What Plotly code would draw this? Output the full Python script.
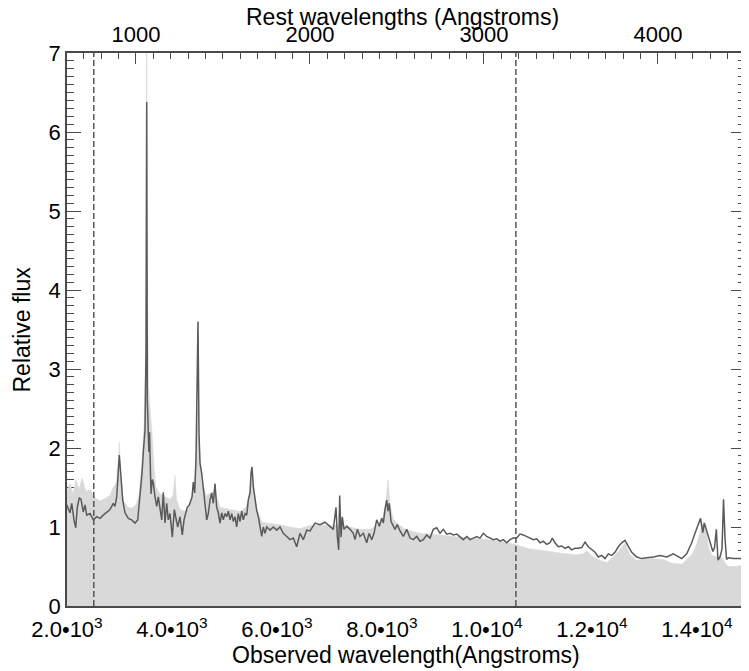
import plotly.graph_objects as go

# Observed spectrum (dark line): observed wavelength (Angstroms) and relative flux
obs_wave = [2000, 2006, 2057, 2090, 2133, 2166, 2196, 2234, 2267, 2310, 2343, 2375, 2438, 2501, 2566,
            2629, 2691, 2756, 2819, 2882, 2914, 2947, 2977, 2996, 3023, 3061, 3105, 3168, 3232, 3295,
            3347, 3377, 3404, 3429, 3453, 3486, 3505, 3518, 3530, 3549, 3560, 3571, 3585, 3600, 3625,
            3644, 3676, 3709, 3739, 3772, 3804, 3834, 3867, 3899, 3929, 3962, 4006, 4044, 4076, 4108,
            4152, 4185, 4196, 4229, 4248, 4280, 4291, 4330, 4343, 4381, 4406, 4432, 4457, 4482, 4495,
            4514, 4533, 4566, 4596, 4629, 4661, 4691, 4724, 4756, 4787, 4819, 4851, 4882, 4914, 4947,
            4977, 5010, 5042, 5073, 5105, 5137, 5168, 5200, 5232, 5263, 5295, 5328, 5358, 5391, 5423,
            5453, 5486, 5505, 5524, 5549, 5581, 5613, 5644, 5676, 5709, 5739, 5772, 5804, 5867, 5930,
            5994, 6057, 6120, 6185, 6248, 6311, 6375, 6438, 6501, 6566, 6629, 6724, 6819, 6914, 7010,
            7073, 7124, 7149, 7175, 7194, 7219, 7244, 7276, 7328, 7391, 7453, 7486, 7530, 7581, 7644,
            7709, 7753, 7804, 7848, 7899, 7949, 7994, 8025, 8057, 8090, 8114, 8139, 8172, 8215, 8248,
            8291, 8343, 8406, 8471, 8534, 8596, 8661, 8724, 8787, 8852, 8914, 8977, 9042, 9105, 9168,
            9233, 9295, 9358, 9423, 9486, 9549, 9614, 9676, 9739, 9804, 9867, 9930, 9994, 10057, 10120,
            10185, 10248, 10311, 10375, 10438, 10501, 10566, 10629, 10691, 10756, 10819, 10882, 10947,
            11010, 11072, 11137, 11200, 11244, 11295, 11358, 11423, 11486, 11549, 11614, 11676, 11739,
            11804, 11867, 11930, 11994, 12057, 12120, 12185, 12248, 12311, 12375, 12438, 12501, 12566,
            12629, 12691, 12756, 12851, 12947, 13042, 13168, 13295, 13423, 13549, 13645, 13709, 13804,
            13899, 13962, 14025, 14067, 14109, 14140, 14185, 14248, 14301, 14334, 14368, 14400, 14438,
            14476, 14505, 14533, 14562, 14595, 14690, 14819, 14914]
obs_flux = [1.28, 1.26, 1.18, 1.30, 1.09, 0.99, 1.25, 1.37, 1.35, 1.19, 1.28, 1.15, 1.17, 1.09, 1.13,
            1.11, 1.15, 1.18, 1.22, 1.30, 1.26, 1.38, 1.72, 1.91, 1.68, 1.34, 1.18, 1.11, 1.09, 1.05,
            1.09, 1.30, 1.56, 1.68, 1.94, 2.23, 3.20, 6.38, 2.60, 2.25, 1.95, 2.20, 1.60, 1.42, 1.60,
            1.56, 1.38, 1.26, 1.38, 1.22, 1.09, 1.44, 1.05, 1.30, 1.09, 1.17, 0.87, 1.22, 1.13, 1.00,
            1.13, 0.92, 0.90, 1.09, 1.13, 1.22, 1.25, 1.28, 1.30, 1.38, 1.57, 1.43, 1.85, 3.03, 3.60,
            2.19, 1.81, 1.68, 1.51, 1.25, 1.09, 1.17, 1.34, 1.43, 1.30, 1.55, 1.25, 1.18, 1.05, 1.18,
            1.09, 1.17, 1.13, 1.20, 1.09, 1.17, 1.07, 1.13, 1.00, 1.17, 1.07, 1.20, 1.09, 1.17, 1.15,
            1.34, 1.43, 1.68, 1.76, 1.51, 1.34, 1.21, 1.13, 1.00, 0.88, 1.00, 0.92, 1.00, 0.96, 1.00,
            0.96, 1.00, 0.92, 0.88, 0.84, 0.86, 0.75, 0.92, 0.84, 0.96, 0.95, 1.05, 1.03, 1.06, 1.01,
            0.97, 1.25, 0.88, 0.71, 1.40, 0.87, 1.13, 0.97, 1.01, 0.97, 0.92, 0.84, 0.97, 0.88, 0.92,
            0.80, 0.92, 0.84, 0.92, 1.09, 1.01, 1.11, 1.05, 1.22, 1.34, 1.20, 1.30, 1.07, 1.01, 0.97,
            1.03, 0.95, 0.88, 0.97, 0.86, 0.84, 0.88, 0.82, 0.84, 0.90, 0.86, 0.97, 0.99, 0.92, 0.97,
            0.91, 0.92, 0.90, 0.91, 0.88, 0.84, 0.88, 0.84, 0.86, 0.88, 0.86, 0.92, 0.88, 0.86, 0.84,
            0.85, 0.82, 0.84, 0.80, 0.84, 0.86, 0.86, 0.91, 0.90, 0.88, 0.86, 0.84, 0.85,
            0.80, 0.82, 0.78, 0.80, 0.86, 0.80, 0.75, 0.76, 0.73, 0.75, 0.71, 0.73, 0.73,
            0.74, 0.81, 0.75, 0.71, 0.68, 0.62, 0.64, 0.60, 0.66, 0.64, 0.68, 0.75, 0.80,
            0.83, 0.75, 0.68, 0.62, 0.60, 0.61, 0.62, 0.64, 0.62, 0.66, 0.62, 0.60, 0.66,
            0.80, 0.92, 1.05, 1.11, 0.93, 1.05, 0.95, 0.81, 0.69, 0.74, 0.97, 0.58, 0.62,
            0.72, 1.35, 0.86, 0.59, 0.61, 0.60, 0.60, 0.59]

# Composite / template spectrum (light grey filled area)
tmpl_wave = [2000, 2057, 2114, 2171, 2229, 2286, 2362, 2438, 2533, 2629, 2724, 2819, 2876, 2933, 2971,
             2996, 3019, 3048, 3086, 3162, 3238, 3314, 3371, 3429, 3467, 3495, 3509, 3518, 3530, 3552,
             3581, 3619, 3657, 3695, 3772, 3867, 3962, 4019, 4057, 4086, 4152, 4248, 4343, 4400, 4448,
             4476, 4495, 4514, 4543, 4591, 4648, 4724, 4781, 4838, 4914, 5105, 5295, 5410, 5467, 5514,
             5543, 5581, 5638, 5714, 5867, 6057, 6248, 6438, 6629, 6819, 7010, 7200, 7391, 7581, 7772,
             7924, 8019, 8076, 8114, 8152, 8210, 8286, 8438, 8724, 9105, 9486, 9867, 10248, 10534, 10819,
             11105, 11391, 11676, 11829, 11905, 11981, 12152, 12286, 12400, 12514, 12629, 12724, 12838,
             13105, 13352, 13524, 13714, 13819, 13914, 13990, 14067, 14120, 14171, 14229, 14286, 14400,
             14476, 14533, 14590, 14762, 14914]
tmpl_flux = [1.45, 1.55, 1.42, 1.60, 1.48, 1.62, 1.45, 1.48, 1.37, 1.33, 1.36, 1.40, 1.50, 1.55, 1.80,
             2.08, 1.70, 1.45, 1.32, 1.25, 1.24, 1.28, 1.40, 1.85, 2.30, 3.20, 5.00, 9.00, 4.50, 2.80,
             2.50, 2.20, 1.75, 1.50, 1.42, 1.38, 1.35, 1.40, 1.66, 1.35, 1.22, 1.20, 1.30, 1.45, 1.80,
             2.20, 2.50, 2.10, 1.80, 1.55, 1.40, 1.42, 1.45, 1.42, 1.25, 1.22, 1.20, 1.25, 1.40, 1.65,
             1.55, 1.35, 1.18, 1.06, 1.05, 1.03, 1.00, 0.98, 1.02, 1.03, 1.02, 1.02, 1.00, 0.97, 0.97,
             1.03, 1.13, 1.35, 1.60, 1.30, 1.10, 1.05, 0.97, 0.92, 0.90, 0.87, 0.85, 0.82, 0.78, 0.72,
             0.70, 0.67, 0.65, 0.66, 0.70, 0.64, 0.58, 0.55, 0.62, 0.70, 0.80, 0.65, 0.58,
             0.60, 0.59, 0.54, 0.53, 0.60, 0.66, 0.78, 0.95, 1.07, 0.95, 0.72, 0.64, 0.62,
             0.61, 0.55, 0.50, 0.50, 0.53]

rest_factor = 3.314            # observed / rest wavelength ratio of the top axis
x_range = [2000, 14914]
y_range = [0, 7]
cut_waves = [2510, 10550]      # dashed vertical markers (observed Angstroms)
bottom_tickvals = [2000, 4000, 6000, 8000, 10000, 12000, 14000]
bottom_ticktext = ["2.0\u202210<sup>3</sup>", "4.0\u202210<sup>3</sup>", "6.0\u202210<sup>3</sup>",
                   "8.0\u202210<sup>3</sup>", "1.0\u202210<sup>4</sup>", "1.2\u202210<sup>4</sup>",
                   "1.4\u202210<sup>4</sup>"]
x_title = "Observed wavelength(Angstroms)"
top_title = "Rest wavelengths (Angstroms)"
y_title = "Relative flux"

FONT = "Liberation Sans, Arial, Helvetica, sans-serif"
AXC = "#4a4a4a"
TICKFONT = dict(family=FONT, size=22, color="black")

fig = go.Figure()
fig.add_trace(go.Scatter(x=tmpl_wave, y=tmpl_flux, mode="lines",
                         line=dict(width=0.5, color="#d9d9d9"),
                         fill="tozeroy", fillcolor="#d9d9d9",
                         showlegend=False, hoverinfo="skip"))
fig.add_trace(go.Scatter(x=obs_wave, y=obs_flux, mode="lines",
                         line=dict(width=1.5, color="#5a5a5a"),
                         showlegend=False))
# invisible trace so the rest-frame (top) axis is drawn
fig.add_trace(go.Scatter(x=[w / rest_factor for w in obs_wave], y=obs_flux, xaxis="x2",
                         mode="lines", opacity=0, showlegend=False, hoverinfo="skip"))

for w in cut_waves:
    fig.add_shape(type="line", xref="x", yref="paper", x0=w, x1=w, y0=0, y1=1,
                  line=dict(color="#555555", width=1.5, dash="6px,3px"), layer="above")

fig.add_annotation(text=x_title, xref="paper", yref="paper", x=0.5, y=0,
                   xanchor="center", yanchor="middle", yshift=-49, showarrow=False,
                   font=dict(family=FONT, size=23, color="black"))
fig.add_annotation(text=top_title, xref="paper", yref="paper", x=0.5, y=1,
                   xanchor="center", yanchor="middle", yshift=36, xshift=-4, showarrow=False,
                   font=dict(family=FONT, size=23, color="black"))
fig.add_annotation(text=y_title, xref="paper", yref="paper", x=0, y=0.5, textangle=-90,
                   xanchor="center", yanchor="middle", xshift=-46, showarrow=False,
                   font=dict(family=FONT, size=23, color="black"))

# the page body adds an 8 px offset, so the figure is 8 px smaller than the window
fig.update_layout(
    width=741, height=663,
    margin=dict(l=59, r=4, t=45, b=65, autoexpand=False),
    paper_bgcolor="white", plot_bgcolor="white",
    font=dict(family=FONT, size=21, color="black"),
    showlegend=False,
    xaxis=dict(range=x_range, tickmode="array", tickvals=bottom_tickvals, ticktext=bottom_ticktext,
               ticks="inside", ticklen=10, tickcolor=AXC, showline=True, linecolor=AXC, linewidth=1.5,
               showgrid=False, zeroline=False, layer="below traces", automargin=False,
               tickfont=TICKFONT, ticklabelstandoff=3),
    xaxis2=dict(overlaying="x", side="top", anchor="y",
                range=[x_range[0] / rest_factor, x_range[1] / rest_factor],
                tickmode="linear", tick0=0, dtick=1000,
                ticks="inside", ticklen=11, tickcolor=AXC,
                minor=dict(ticks="inside", ticklen=6, dtick=100, tick0=0, tickcolor=AXC),
                showline=True, linecolor=AXC, linewidth=1.5, showgrid=False, zeroline=False,
                automargin=False, tickfont=TICKFONT),
    yaxis=dict(range=y_range, tickmode="linear", tick0=0, dtick=1,
               ticks="inside", ticklen=14, tickcolor=AXC,
               minor=dict(ticks="inside", ticklen=7, dtick=0.1, tick0=0, tickcolor=AXC),
               showline=True, linecolor=AXC, linewidth=1.5, mirror="ticks",
               showgrid=False, zeroline=False, layer="below traces", automargin=False,
               tickfont=TICKFONT, ticklabelstandoff=0),
)

fig.write_html("out.html")
